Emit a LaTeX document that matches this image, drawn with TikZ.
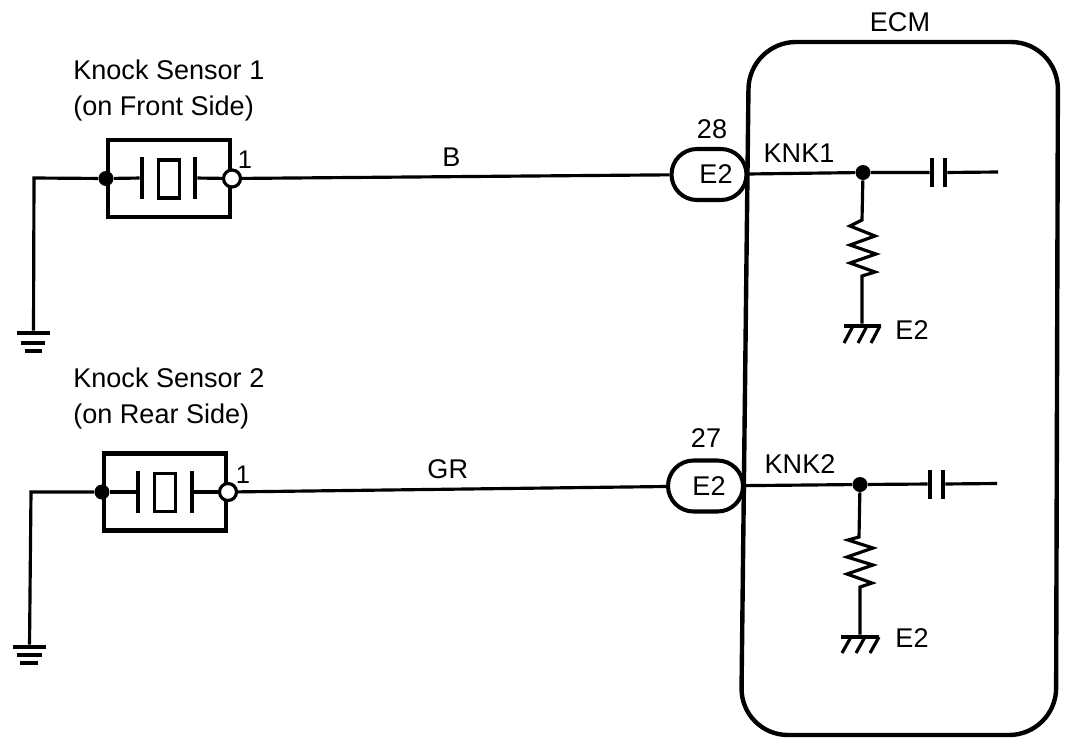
\documentclass[tikz,border=0pt]{standalone}
\usepackage{fontspec}
\setmainfont{Liberation Sans}
\usetikzlibrary{positioning,shapes.misc,calc}

\begin{document}
\begin{tikzpicture}[
         x=0.02cm, y=-0.02cm,
         wire/.style = {line width=1.8pt},
         boxline/.style = {line width=2.3pt},
         ecmline/.style = {line width=2.5pt, rounded corners=0.94cm},
         lbl/.style = {inner sep=0pt, font=\fontsize{15.4}{18}\selectfont},
         pinno/.style = {inner sep=0pt, font=\fontsize{14.5}{16}\selectfont},
         sensor/.style = {draw, boxline, minimum width=2.44cm, minimum height=1.54cm, inner sep=0pt},
         crystal/.style = {draw, wire, minimum width=0.42cm, minimum height=0.76cm, inner sep=0pt},
         plate/.style = {fill=black, inner sep=0pt, minimum width=0.08cm, minimum height=0.84cm},
         capplate/.style = {fill=black, inner sep=0pt, minimum width=0.08cm, minimum height=0.58cm},
         joint/.style = {circle, fill=black, inner sep=0pt, minimum size=0.3cm},
         pin/.style = {circle, draw, wire, fill=white, inner sep=0pt, minimum size=0.34cm},
         plug/.style = {draw, boxline, rounded rectangle, fill=white, inner sep=0pt,
                        minimum width=1.5cm, minimum height=1.02cm},
         gbar/.style = {fill=black, inner sep=0pt, minimum height=0.08cm}
]

         % ECM outline
         \coordinate (ecm1) at (749,42);
         \coordinate (ecm2) at (1058,42);
         \coordinate (ecm3) at (1056,735);
         \coordinate (ecm4) at (741,735);
         \useasboundingbox (0,0) rectangle (1088,744);
         \draw[ecmline] (ecm1) -- (ecm2) -- (ecm3) -- (ecm4) -- cycle;
         \node[lbl] (ecmname) at (900,22) {ECM};

         % knock sensor 1
         \node[lbl, anchor=west] (ks1) at (73,70)  {Knock Sensor 1};
         \node[lbl, anchor=west] (ks1side) at (73,108) {(on Front Side)};
         \node[sensor] (s1) at (169,178.5) {};
         \node[plate] (s1a) at (142,178) {};
         \node[crystal] (s1c) at (169,179) {};
         \node[plate] (s1b) at (195,178) {};
         \node[joint] (s1l) at (s1.west) {};
         \node[pin] (s1r) at (s1.east) {};
         \node[pinno] (s1no) at (245,160) {1};
         \draw[wire] (s1l) -- (s1a);
         \draw[wire] (s1b) -- (s1r);

         % ground of sensor 1
         \coordinate (g1c) at (34,178);
         \node[gbar, minimum width=0.66cm] (g1a) at (33.5,333) {};
         \node[gbar, minimum width=0.48cm] (g1b) at (33,343) {};
         \node[gbar, minimum width=0.34cm] (g1d) at (33.5,351) {};
         \draw[wire] (s1l) -- (g1c) -- (g1a);

         % knock sensor 2
         \node[lbl, anchor=west] (ks2) at (73,378)  {Knock Sensor 2};
         \node[lbl, anchor=west] (ks2side) at (73,416) {(on Rear Side)};
         \node[sensor] (s2) at (165,492) {};
         \node[plate] (s2a) at (138,492) {};
         \node[crystal] (s2c) at (165,492.5) {};
         \node[plate] (s2b) at (192,492) {};
         \node[joint] (s2l) at (s2.west) {};
         \node[pin] (s2r) at (s2.east) {};
         \node[pinno] (s2no) at (243,475) {1};
         \draw[wire] (s2l) -- (s2a);
         \draw[wire] (s2b) -- (s2r);

         % ground of sensor 2
         \coordinate (g2c) at (31,492);
         \node[gbar, minimum width=0.66cm] (g2a) at (29.5,647) {};
         \node[gbar, minimum width=0.50cm] (g2b) at (29.5,655) {};
         \node[gbar, minimum width=0.36cm] (g2d) at (29,663) {};
         \draw[wire] (s2l) -- (g2c) -- (g2a);

         % connectors
         \node[plug] (c28) at (709,174.5) {};
         \node[lbl] (c28a) at (716,174) {E2};
         \node[lbl] (c28b) at (712,129) {28};
         \node[plug] (c27) at (705.5,486) {};
         \node[lbl] (c27a) at (709,486) {E2};
         \node[lbl] (c27b) at (706,438) {27};

         % harness
         \draw[wire] (s1r) -- node[lbl, pos=0.49, yshift=0.38cm] (wb) {B} (c28);
         \draw[wire] (s2r) -- node[lbl, pos=0.49, yshift=0.40cm] (wgr) {GR} (c27);

         % KNK1 circuit
         \node[lbl] (knk1) at (799,153) {KNK1};
         \node[joint] (d1) at (863,172.5) {};
         \node[capplate] (p11) at (932,172.5) {};
         \node[capplate] (p12) at (945,172.5) {};
         \coordinate (o1) at (998,172);
         \node[gbar, minimum width=0.74cm] (h1) at (862,326) {};
         \node[lbl] (e21) at (912,330) {E2};
         \draw[wire] (c28) -- (d1) -- (p11);
         \draw[wire] (p12) -- (o1);
         \draw[wire] (d1) -- (862,220) -- (850,226) -- (875,236) -- (850,245) -- (876,254)
               -- (850,263) -- (875,272) -- (862,276) -- (h1);
         \draw[wire] (853,326) -- (844,343) (867,326) -- (858,343) (880,326) -- (871,343);

         % KNK2 circuit
         \node[lbl] (knk2) at (800,464) {KNK2};
         \node[joint] (d2) at (860,484.5) {};
         \node[capplate] (p21) at (930,484) {};
         \node[capplate] (p22) at (943,484) {};
         \coordinate (o2) at (997,483.5);
         \node[gbar, minimum width=0.76cm] (h2) at (860,637) {};
         \node[lbl] (e22) at (912,638) {E2};
         \draw[wire] (c27) -- (d2) -- (p21);
         \draw[wire] (p22) -- (o2);
         \draw[wire] (d2) -- (859,537) -- (848,540) -- (873,548) -- (847,557) -- (873,565)
               -- (847,574) -- (872,583) -- (860,587) -- (h2);
         \draw[wire] (851,637) -- (842,653) (865,637) -- (856,653) (879,637) -- (870,653);

\end{tikzpicture}
\end{document}
